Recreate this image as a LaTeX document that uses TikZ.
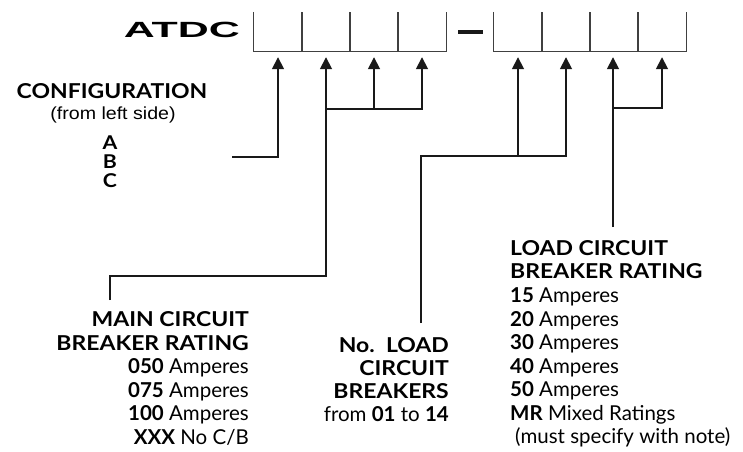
\documentclass[tikz,border=0pt]{standalone}
\usepackage{fontspec}
\setmainfont{Lato}
\newfontfamily\arialfont{Liberation Sans}
\usetikzlibrary{arrows.meta}
\newcommand{\hdtext}[1]{\scalebox{1.12}[1]{\bfseries #1}}
\begin{document}
\begin{tikzpicture}[x=1pt,y=-1pt,
  lbl/.style={inner sep=0pt, font=\fontsize{20.5}{22}\selectfont},
  slotbox/.style={minimum width=48pt, minimum height=39pt, inner sep=0pt},
  slotline/.style={draw=black!75, line width=1.3pt},
  conn/.style={line width=1.7pt, draw=black!90},
  arr/.style={conn, -{Triangle[width=12pt,length=12pt]}},
]
\useasboundingbox (0,0) rectangle (743,451);
\fill[white] (0,0) rectangle (743,451);

% slot boxes
\foreach \i/\x in {1/278,2/326,3/374,4/422,5/518,6/566,7/614,8/662}{
  \node[slotbox] (b\i) at (\x,31.5) {};
  \draw[slotline] (b\i.north west) -- (b\i.south west) -- (b\i.south east) -- (b\i.north east);
  \coordinate (t\i) at ([yshift=-6pt]b\i.south);
}
\node[fill=black!90, minimum width=25pt, minimum height=4.5pt, inner sep=0pt] (dash) at (470.5,32) {};
\node[anchor=base east, inner sep=0pt] (atdc) at (240,37)
  {\scalebox{1.95}[1]{\fontsize{22}{22}\selectfont\arialfont\bfseries ATDC}};

% configuration
\node[lbl, anchor=base] (cfg) at (112,98) {\hdtext{CONFIGURATION}};
\node[lbl, anchor=base, font=\fontsize{17.5}{20}\selectfont\arialfont] (cfgsub) at (113,119) {\scalebox{1.12}[1]{(from left side)}};
\node[lbl, anchor=base, font=\fontsize{19}{20}\selectfont] (cfgA) at (110,149) {\hdtext{A}};
\node[lbl, anchor=base, font=\fontsize{19}{20}\selectfont] (cfgB) at (110,168) {\hdtext{B}};
\node[lbl, anchor=base, font=\fontsize{19}{20}\selectfont] (cfgC) at (110,187) {\hdtext{C}};

% main circuit breaker rating
\node[lbl, anchor=base east] (m1) at (249,326) {\hdtext{MAIN CIRCUIT}};
\node[lbl, anchor=base east] (m2) at (249,350) {\hdtext{BREAKER RATING}};
\node[lbl, anchor=base east] (m3) at (249,373) {\textbf{050} Amperes};
\node[lbl, anchor=base east] (m4) at (249,397) {\textbf{075} Amperes};
\node[lbl, anchor=base east] (m5) at (249,420) {\textbf{100} Amperes};
\node[lbl, anchor=base east] (m6) at (249,444) {\textbf{XXX} No C/B};

% number of load circuit breakers
\node[lbl, anchor=base east] (n1) at (449,352) {\hdtext{No.\ \ LOAD}};
\node[lbl, anchor=base east] (n2) at (449,375) {\hdtext{CIRCUIT}};
\node[lbl, anchor=base east] (n3) at (449,398) {\hdtext{BREAKERS}};
\node[lbl, anchor=base east] (n4) at (449,421) {from \textbf{01} to \textbf{14}};

% load circuit breaker rating
\node[lbl, anchor=base west] (l1) at (510,255) {\hdtext{LOAD CIRCUIT}};
\node[lbl, anchor=base west] (l2) at (510,278) {\hdtext{BREAKER RATING}};
\node[lbl, anchor=base west] (l3) at (510,302) {\textbf{15} Amperes};
\node[lbl, anchor=base west] (l4) at (510,326) {\textbf{20} Amperes};
\node[lbl, anchor=base west] (l5) at (510,349) {\textbf{30} Amperes};
\node[lbl, anchor=base west] (l6) at (510,373) {\textbf{40} Amperes};
\node[lbl, anchor=base west] (l7) at (510,396) {\textbf{50} Amperes};
\node[lbl, anchor=base west] (l8) at (510,420) {\textbf{MR} Mixed Ratings};
\node[lbl, anchor=base west] (l9) at (515,443) {(must specify with note)};

% connectors
\coordinate (cfgEnd) at (232,157);
\draw[arr] (cfgEnd) -| (t1);

\coordinate (mainTop) at (110,300);
\coordinate (mainJ) at (326,276);
\draw[arr] (mainTop) |- (mainJ) -- (t2);
\coordinate (bJ) at (326,109);
\draw[arr] (bJ) -| (t3);
\draw[arr] (bJ) -| (t4);

\coordinate (nTop) at (421,323);
\coordinate (nJ) at (421,156);
\draw[arr] (nTop) -- (nJ) -| (t5);
\draw[arr] (nJ) -| (t6);

\coordinate (lTop) at (613,227);
\draw[arr] (lTop) -- (lTop |- t7);
\coordinate (lJ) at (613,108);
\draw[arr] (lJ) -| (t8);
\end{tikzpicture}
\end{document}
